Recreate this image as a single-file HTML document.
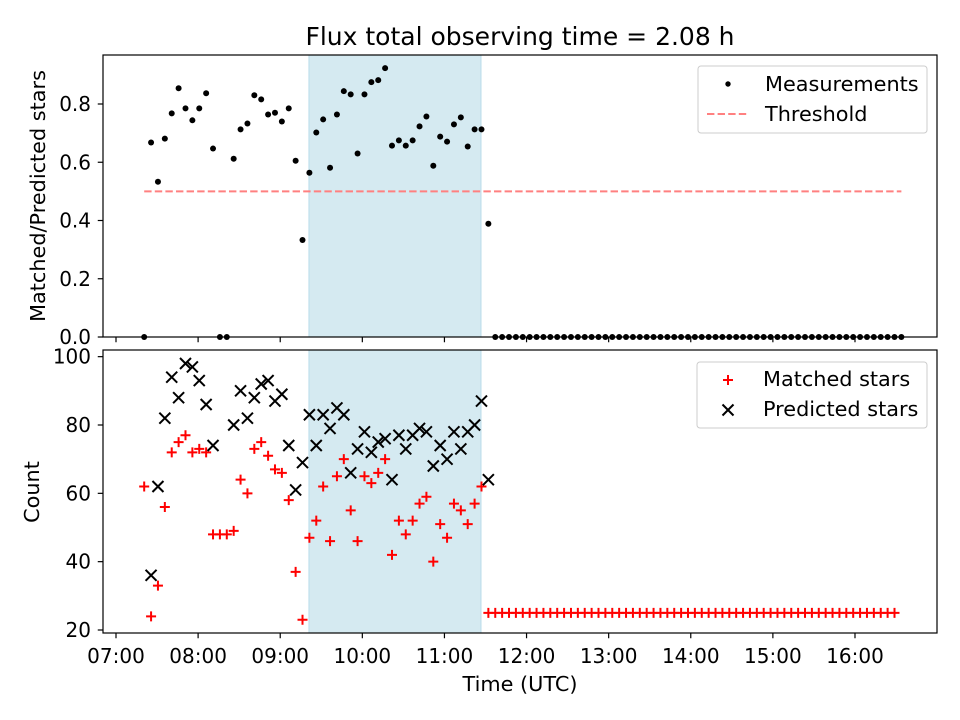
<!DOCTYPE html>
<html><head><meta charset="utf-8"><style>
body{margin:0;background:#fff}
svg{display:block;font-family:"DejaVu Sans","Liberation Sans",sans-serif}
svg text{font-size:20.8px}
svg text.tick{font-size:20px}
svg text.title{font-size:25px}
</style></head><body>
<svg id="chart" width="960" height="720" viewBox="0 0 960 720" xmlns="http://www.w3.org/2000/svg"></svg>
<script>
// ---- data ----
const startMinutes = 20.6;      // ~07:21 (minutes after 07:00)
const stepMinutes = 5.03;
const ratioValues = [0,0.668,0.533,0.681,0.768,0.854,0.785,0.744,0.785,0.837,0.647,0,0,0.612,0.713,0.733,0.830,0.816,0.764,0.770,0.740,0.785,0.605,0.333,0.564,0.702,0.747,0.581,0.764,0.844,0.833,0.630,0.833,0.875,0.882,0.923,0.657,0.675,0.657,0.675,0.723,0.757,0.588,0.688,0.671,0.730,0.754,0.654,0.713,0.713,0.389,
0,0,0,0,0,0,0,0,0,0,0,0,0,0,0,0,0,0,0,0,0,0,0,0,0,0,0,0,0,0,0,0,0,0,0,0,0,0,0,0,0,0,0,0,0,0,0,0,0,0,0,0,0,0,0,0,0,0,0,0];
const matchedValues = [62,24,33,56,72,75,77,72,73,72,48,48,48,49,64,60,73,75,71,67,66,58,37,23,47,52,62,46,65,70,55,46,65,63,66,70,42,52,48,52,57,59,40,51,47,57,55,51,57,62,25,
25,25,25,25,25,25,25,25,25,25,25,25,25,25,25,25,25,25,25,25,25,25,25,25,25,25,25,25,25,25,25,25,25,25,25,25,25,25,25,25,25,25,25,25,25,25,25,25,25,25,25,25,25,25,25,25,25,25,25];
const predictedValues = [null,36,62,82,94,88,98,97,93,86,74,null,null,80,90,82,88,92,93,87,89,74,61,69,83,74,83,79,85,83,66,73,78,72,75,76,64,77,73,77,79,78,68,74,70,78,73,78,80,87,64];
const threshold = 0.5;
const shadeStartMin = 141, shadeEndMin = 266.7;
const xTickLabels = ["07:00","08:00","09:00","10:00","11:00","12:00","13:00","14:00","15:00","16:00"];
const topYTicks = [0,0.2,0.4,0.6,0.8];
const botYTicks = [20,40,60,80,100];

// ---- geometry ----
const NS="http://www.w3.org/2000/svg";
const svg=document.getElementById('chart');
const L=103,R=937,T1=55,B1=337,T2=350,B2=633;
const x=m=>116+m*82.11/60;
const y1=v=>337-v*291.25;
const y2=v=>630-(v-20)*3.4167;
function el(tag,attrs,parent){const e=document.createElementNS(NS,tag);for(const k in attrs)e.setAttribute(k,attrs[k]);(parent||svg).appendChild(e);return e;}
function txt(s,attrs,parent){const e=el('text',attrs,parent);e.textContent=s;return e;}
const times=ratioValues.map((_,i)=>startMinutes+i*stepMinutes);

// title
const title=txt("Flux total observing time = 2.08 h",{x:520,y:45,'text-anchor':'middle','class':'title'});



function panel(top,bottom,name){
  const g=el('g',{});
  
  
  const sh=el('rect',{x:x(shadeStartMin),y:top,width:x(shadeEndMin)-x(shadeStartMin),height:bottom-top,fill:'#d5eaf1',stroke:'#b9dcea','stroke-width':1},g);
  
  
  return g;
}
function frame(top,bottom,g){
  el('rect',{x:L,y:top,width:R-L,height:bottom-top,fill:'none',stroke:'#000','stroke-width':1.2},g);
  xTickLabels.forEach((s,i)=>{const xx=x(i*60);el('line',{x1:xx,x2:xx,y1:bottom,y2:bottom+5.25,stroke:'#000','stroke-width':1.2},g);});
}

// ---- top panel ----
const gTop=panel(T1,B1,'ratio-panel');
const thr=el('line',{x1:x(times[0]),x2:x(times[times.length-1]),y1:y1(threshold),y2:y1(threshold),stroke:'#ff8080','stroke-width':2,'stroke-dasharray':'7.4,3.2'},gTop);


ratioValues.forEach((v,i)=>{
  const c=el('circle',{cx:x(times[i]),cy:y1(v),r:3,fill:'#000'},gTop);
  
  
});
frame(T1,B1,gTop);
topYTicks.forEach(v=>{
  el('line',{x1:L,x2:L-5.25,y1:y1(v),y2:y1(v),stroke:'#000','stroke-width':1.2},gTop);
  const t=txt(v.toFixed(1),{x:L-12,y:y1(v)+7,'text-anchor':'end','class':'tick'},gTop);
  
  
});
const yl1=txt("Matched/Predicted stars",{x:0,y:0,'text-anchor':'middle',transform:'translate(45,196) rotate(-90)'},gTop);


// legend top
const lg1=el('g',{},gTop);


el('rect',{x:698,y:66,width:229,height:67,rx:3,fill:'#fff','fill-opacity':0.8,stroke:'#ccc'},lg1);
el('circle',{cx:728,cy:84,r:2.7,fill:'#000'},lg1);
txt("Measurements",{x:765,y:91},lg1);
el('line',{x1:707,x2:749,y1:114,y2:114,stroke:'#ff8080','stroke-width':2,'stroke-dasharray':'7.4,3.2'},lg1);
txt("Threshold",{x:765,y:121},lg1);

// ---- bottom panel ----
const gBot=panel(T2,B2,'count-panel');
function plus(cx,cy,g){const p=el('path',{d:`M${cx-5} ${cy}H${cx+5}M${cx} ${cy-5}V${cy+5}`,stroke:'#ff0000','stroke-width':2,fill:'none'},g);return p;}
function cross(cx,cy,g){const p=el('path',{d:`M${cx-5.5} ${cy-5.5}L${cx+5.5} ${cy+5.5}M${cx-5.5} ${cy+5.5}L${cx+5.5} ${cy-5.5}`,stroke:'#000','stroke-width':2,fill:'none'},g);return p;}
matchedValues.forEach((v,i)=>{
  const p=plus(x(times[i]),y2(v),gBot);
  
  
});
predictedValues.forEach((v,i)=>{
  if(v===null)return;
  const p=cross(x(times[i]),y2(v),gBot);
  
  
});
frame(T2,B2,gBot);
botYTicks.forEach(v=>{
  el('line',{x1:L,x2:L-5.25,y1:y2(v),y2:y2(v),stroke:'#000','stroke-width':1.2},gBot);
  const t=txt(String(v),{x:L-12,y:y2(v)+7,'text-anchor':'end','class':'tick'},gBot);
  
  
});
xTickLabels.forEach((s,i)=>{
  const t=txt(s,{x:x(i*60),y:663,'text-anchor':'middle','class':'tick'},gBot);
  
  
});
const yl2=txt("Count",{x:0,y:0,'text-anchor':'middle',transform:'translate(39,492) rotate(-90)'},gBot);


const xl=txt("Time (UTC)",{x:520,y:691,'text-anchor':'middle'},gBot);


const lg2=el('g',{},gBot);


el('rect',{x:697,y:362,width:230,height:66,rx:3,fill:'#fff','fill-opacity':0.8,stroke:'#ccc'},lg2);
plus(728,380,lg2);
txt("Matched stars",{x:763,y:386},lg2);
cross(728,410,lg2);
txt("Predicted stars",{x:763,y:416},lg2);
</script>
</body></html>
